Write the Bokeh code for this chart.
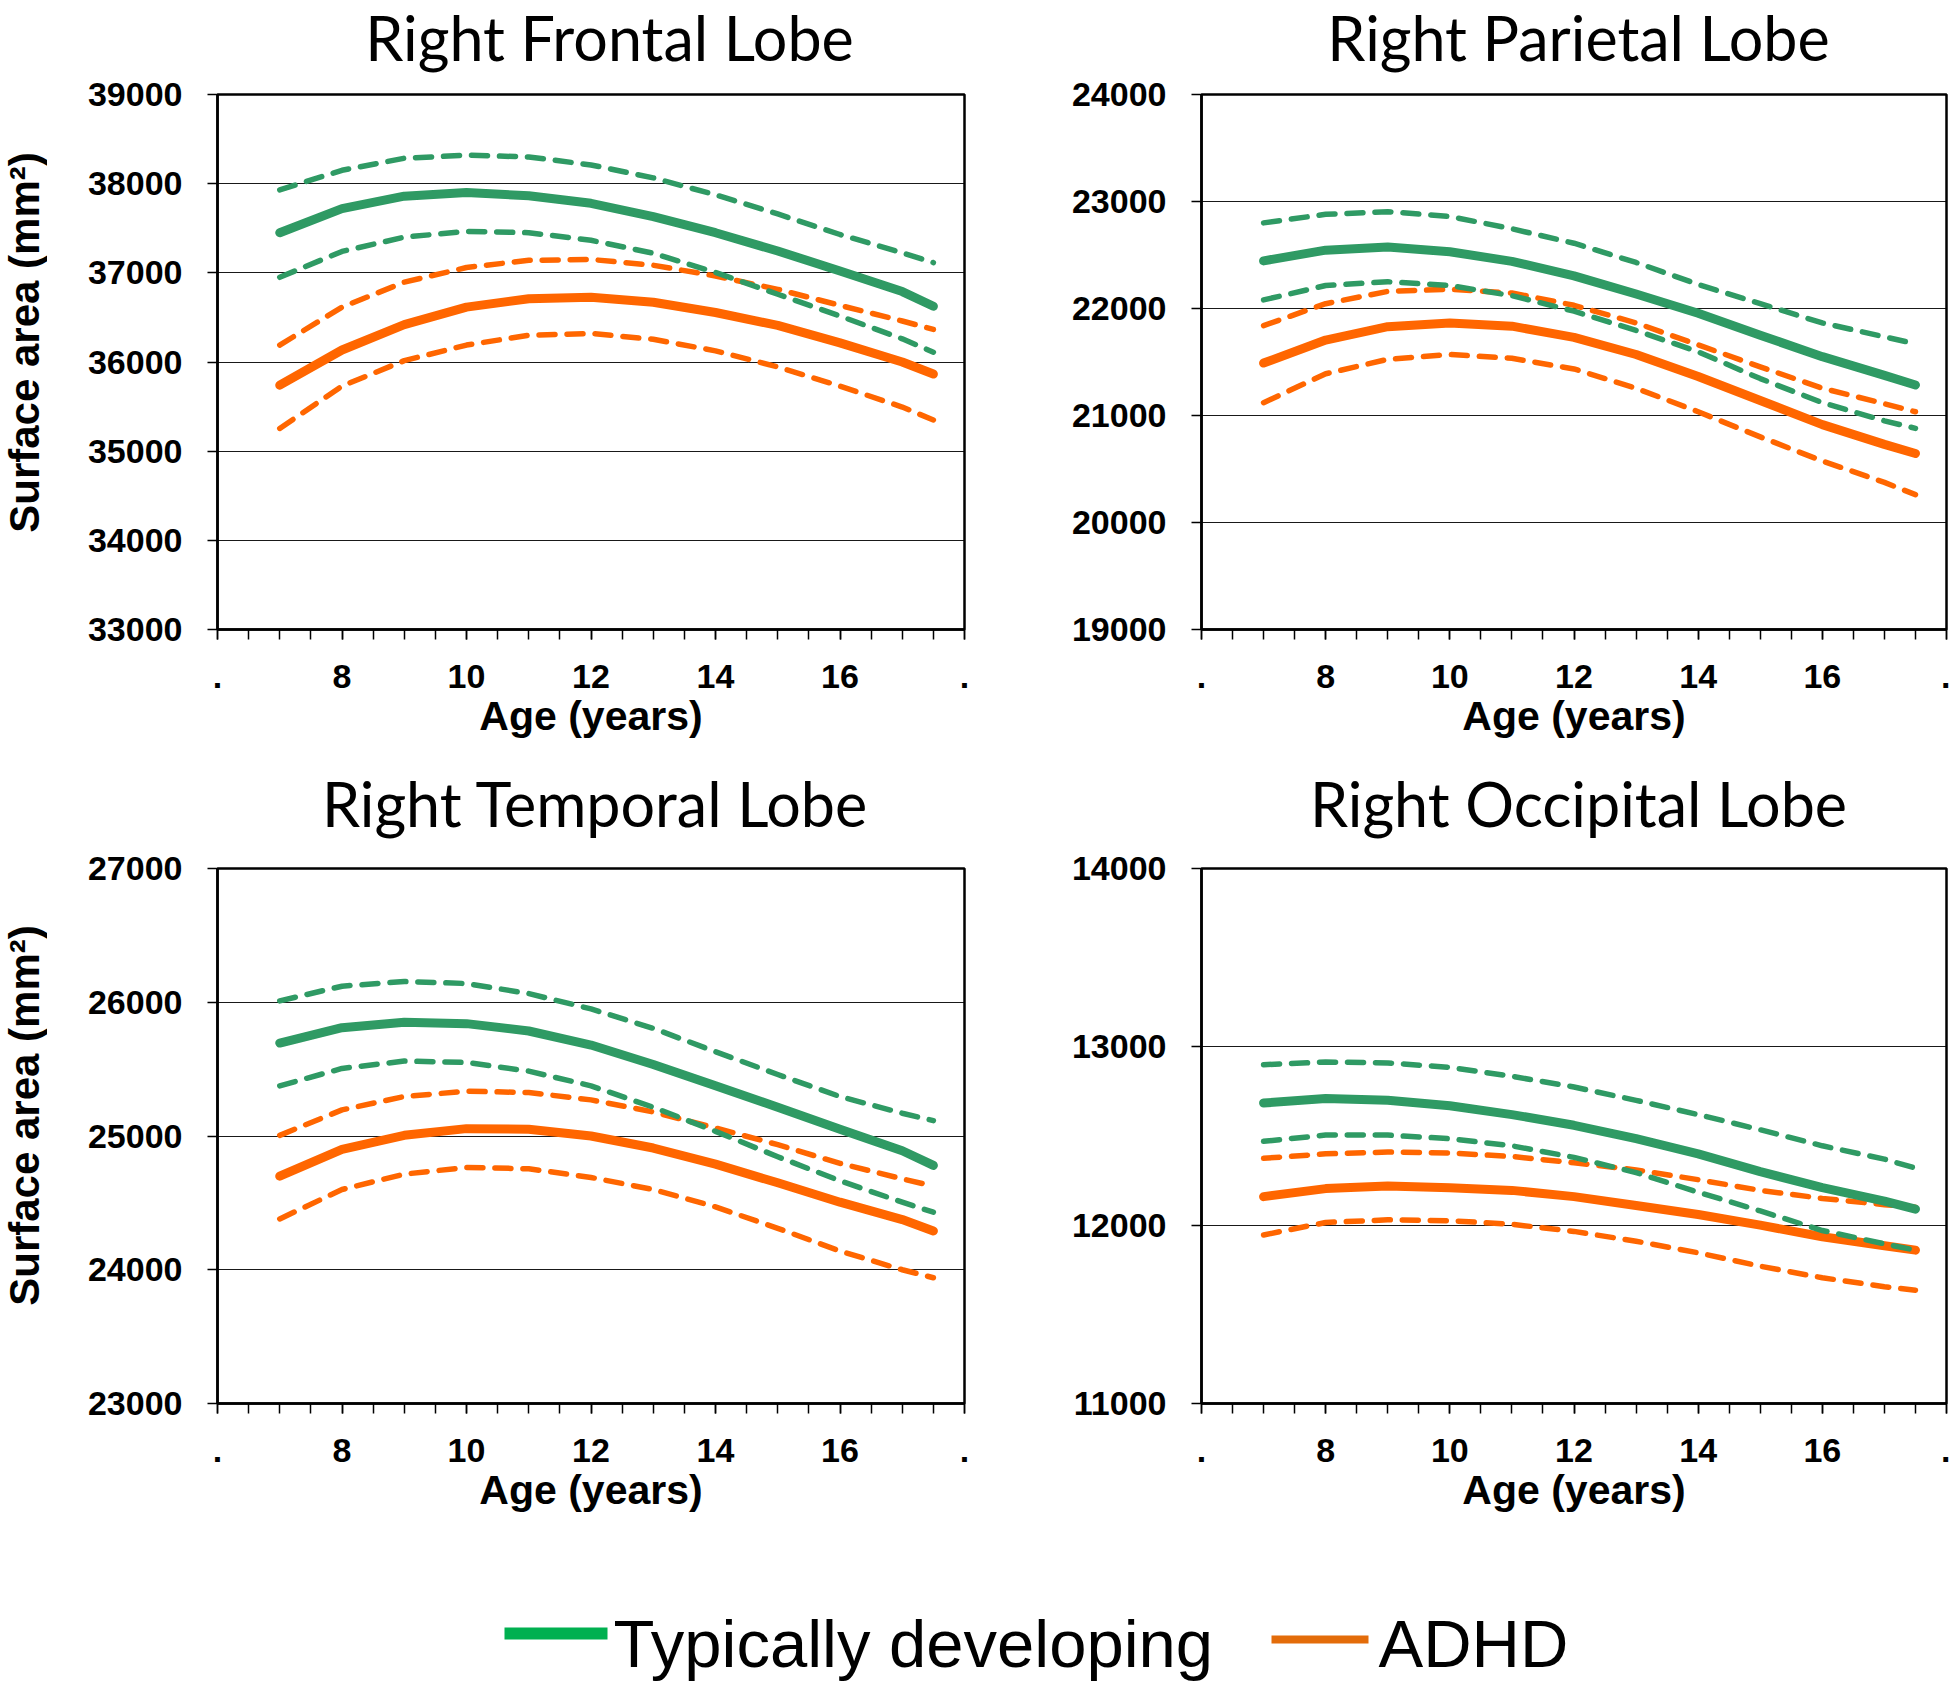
import math
from bokeh.plotting import figure
from bokeh.layouts import column, row
from bokeh.models import Range1d, FixedTicker
from bokeh.embed import file_html
from bokeh.resources import INLINE
from bokeh.core.properties import value

# ---------------- data ----------------
ages = [7, 8, 9, 10, 11, 12, 13, 14, 15, 16, 17, 17.5]

x_ticks = [6, 8, 10, 12, 14, 16, 18]
x_tick_labels = [".", "8", "10", "12", "14", "16", "."]
x_minor_ticks = [6, 6.5, 7, 7.5, 8, 8.5, 9, 9.5, 10, 10.5, 11, 11.5, 12,
                 12.5, 13, 13.5, 14, 14.5, 15, 15.5, 16, 16.5, 17, 17.5, 18]

titles = ["Right Frontal Lobe", "Right Parietal Lobe",
          "Right Temporal Lobe", "Right Occipital Lobe"]
y_limits = [(33000, 39000), (19000, 24000), (23000, 27000), (11000, 14000)]
y_title = "Surface area (mm\u00b2)"
x_title = "Age (years)"

frontal_td = [37450, 37720, 37860, 37900, 37865, 37780, 37630, 37450, 37245, 37020, 36790, 36625]
frontal_td_hi = [37930, 38150, 38285, 38320, 38300, 38210, 38065, 37875, 37660, 37430, 37225, 37115]
frontal_td_lo = [36950, 37240, 37400, 37465, 37450, 37365, 37220, 37005, 36760, 36515, 36260, 36110]
frontal_adhd = [35740, 36135, 36420, 36615, 36710, 36725, 36670, 36555, 36410, 36215, 36000, 35865]
frontal_adhd_hi = [36190, 36615, 36895, 37060, 37140, 37150, 37085, 36965, 36815, 36635, 36460, 36365]
frontal_adhd_lo = [35255, 35730, 36015, 36190, 36300, 36320, 36255, 36125, 35945, 35730, 35495, 35350]

parietal_td = [22445, 22545, 22575, 22530, 22440, 22305, 22135, 21955, 21750, 21550, 21375, 21285]
parietal_td_hi = [22800, 22880, 22905, 22860, 22745, 22610, 22430, 22225, 22045, 21865, 21735, 21670]
parietal_td_lo = [22080, 22215, 22250, 22215, 22120, 21975, 21795, 21595, 21345, 21120, 20950, 20880]
parietal_adhd = [21490, 21705, 21830, 21865, 21835, 21730, 21570, 21365, 21140, 20915, 20730, 20645]
parietal_adhd_hi = [21840, 22045, 22160, 22180, 22145, 22030, 21865, 21660, 21455, 21255, 21110, 21035]
parietal_adhd_lo = [21120, 21390, 21525, 21570, 21535, 21435, 21255, 21035, 20800, 20575, 20375, 20260]

temporal_td = [25695, 25810, 25850, 25840, 25785, 25680, 25535, 25375, 25215, 25050, 24890, 24780]
temporal_td_hi = [26010, 26120, 26155, 26140, 26065, 25950, 25805, 25630, 25460, 25295, 25170, 25115]
temporal_td_lo = [25375, 25505, 25560, 25550, 25485, 25375, 25215, 25035, 24845, 24665, 24505, 24430]
temporal_adhd = [24700, 24900, 25005, 25055, 25050, 25000, 24910, 24790, 24650, 24505, 24375, 24290]
temporal_adhd_hi = [25005, 25195, 25295, 25335, 25325, 25270, 25180, 25060, 24935, 24795, 24680, 24625]
temporal_adhd_lo = [24380, 24600, 24715, 24765, 24755, 24690, 24600, 24470, 24310, 24140, 24000, 23940]

occipital_td = [12685, 12710, 12700, 12670, 12620, 12560, 12485, 12400, 12300, 12210, 12135, 12090]
occipital_td_hi = [12900, 12915, 12910, 12885, 12835, 12775, 12700, 12620, 12535, 12445, 12370, 12320]
occipital_td_lo = [12470, 12505, 12505, 12485, 12445, 12380, 12295, 12185, 12080, 11970, 11895, 11860]
occipital_adhd = [12160, 12205, 12220, 12210, 12195, 12160, 12110, 12060, 12000, 11935, 11885, 11860]
occipital_adhd_hi = [12375, 12400, 12410, 12405, 12385, 12350, 12310, 12255, 12195, 12150, 12115, 12100]
occipital_adhd_lo = [11945, 12015, 12030, 12025, 12005, 11965, 11910, 11845, 11770, 11705, 11655, 11635]

legend_labels = ["Typically developing", "ADHD"]

# ---------------- style ----------------
TD_COLOR = "#2F9A64"
ADHD_COLOR = "#FF6600"
TD_LEG = "#00B050"
ADHD_LEG = "#E36C0A"
AX_FONT = "Liberation Sans"
TITLE_FONT = "Lato"
PAGE_W = 1950
YLAB_W = 47          # width of the strip that holds the rotated y-axis titles
INNER_W = PAGE_W - YLAB_W


def make_panel(ylim, series, width, height, mb_left, mb_right, mb_top, mb_bottom):
    p = figure(width=width, height=height, x_range=Range1d(6, 18),
               y_range=Range1d(*ylim), output_backend="svg",
               toolbar_location=None, min_border_left=mb_left,
               min_border_right=mb_right, min_border_top=mb_top,
               min_border_bottom=mb_bottom)
    p.background_fill_color = "white"
    p.border_fill_color = "white"
    p.outline_line_color = "black"
    p.outline_line_width = 2.5
    p.xgrid.visible = False
    p.ygrid.grid_line_color = "black"
    p.ygrid.grid_line_width = 1.2
    p.ygrid.grid_line_alpha = 0.9

    p.xaxis.ticker = FixedTicker(ticks=x_ticks, minor_ticks=x_minor_ticks)
    p.xaxis.major_label_overrides = {t: l for t, l in zip(x_ticks, x_tick_labels)}
    p.yaxis.ticker = FixedTicker(ticks=list(range(ylim[0], ylim[1] + 1, 1000)))
    for ax in (p.xaxis[0], p.yaxis[0]):
        ax.axis_line_color = "black"
        ax.axis_line_width = 2.5
        ax.major_tick_in = 0
        ax.major_tick_out = 10
        ax.major_tick_line_color = "black"
        ax.major_tick_line_width = 1.5
        ax.major_label_text_font = AX_FONT
        ax.major_label_text_font_style = "bold"
        ax.major_label_text_font_size = "34px"
        ax.major_label_text_color = "black"
        ax.axis_label_text_font = AX_FONT
        ax.axis_label_text_font_style = "bold"
        ax.axis_label_text_font_size = "41px"
        ax.axis_label_text_color = "black"
    p.xaxis.minor_tick_in = 0
    p.xaxis.minor_tick_out = 10
    p.xaxis.minor_tick_line_color = "black"
    p.xaxis.minor_tick_line_width = 1.5
    p.yaxis.minor_tick_line_color = None
    p.xaxis.major_label_standoff = 25
    p.yaxis.major_label_standoff = 25
    p.xaxis.axis_label = x_title
    p.xaxis.axis_label_standoff = 2

    td, td_hi, td_lo, ad, ad_hi, ad_lo = series
    for ys in (ad_hi, ad_lo):
        p.line(ages, ys, line_color=ADHD_COLOR, line_width=5.5,
               line_dash="16 12", line_cap="round", line_join="round")
    p.line(ages, ad, line_color=ADHD_COLOR, line_width=9,
           line_cap="round", line_join="round")
    for ys in (td_hi, td_lo):
        p.line(ages, ys, line_color=TD_COLOR, line_width=5.5,
               line_dash="16 12", line_cap="round", line_join="round")
    p.line(ages, td, line_color=TD_COLOR, line_width=9,
           line_cap="round", line_join="round")
    return p


def make_strip(height, texts, xs, y_mid):
    s = figure(width=INNER_W, height=height, x_range=Range1d(0, INNER_W),
               y_range=Range1d(0, height), x_axis_type=None, y_axis_type=None,
               output_backend="svg", toolbar_location=None, min_border=0)
    s.outline_line_color = None
    s.grid.visible = False
    s.text(x=xs, y=[y_mid] * len(xs), text=texts, text_font=value(TITLE_FONT),
           text_font_size="61px", text_align="center", text_baseline="middle",
           text_color="black")
    return s


# title strips (x positions relative to the inner column)
strip1 = make_strip(75, titles[0:2], [609 - YLAB_W, 1578 - YLAB_W], 37.6)
p1 = make_panel(y_limits[0],
                (frontal_td, frontal_td_hi, frontal_td_lo, frontal_adhd,
                 frontal_adhd_hi, frontal_adhd_lo),
                1052 - YLAB_W, 675, 217 - YLAB_W, 88, 19, 121)
p2 = make_panel(y_limits[1],
                (parietal_td, parietal_td_hi, parietal_td_lo, parietal_adhd,
                 parietal_adhd_hi, parietal_adhd_lo),
                898, 675, 149, 4, 19, 121)
strip2 = make_strip(90, titles[2:4], [595 - YLAB_W, 1578 - YLAB_W], 36.6)
p3 = make_panel(y_limits[2],
                (temporal_td, temporal_td_hi, temporal_td_lo, temporal_adhd,
                 temporal_adhd_hi, temporal_adhd_lo),
                1052 - YLAB_W, 700, 217 - YLAB_W, 88, 28, 137)
p4 = make_panel(y_limits[3],
                (occipital_td, occipital_td_hi, occipital_td_lo, occipital_adhd,
                 occipital_adhd_hi, occipital_adhd_lo),
                898, 700, 149, 4, 28, 137)

# rotated y-axis titles, in their own narrow strip on the left
COL_H = 75 + 675 + 90 + 700
ylab = figure(width=YLAB_W, height=COL_H, x_range=Range1d(0, YLAB_W),
              y_range=Range1d(0, COL_H), x_axis_type=None, y_axis_type=None,
              output_backend="svg", toolbar_location=None, min_border=0)
ylab.outline_line_color = None
ylab.grid.visible = False
ylab.text(x=[YLAB_W / 2, YLAB_W / 2], y=[COL_H - 342, COL_H - 1115],
          text=[y_title, y_title], angle=math.pi / 2,
          text_font=value(AX_FONT), text_font_style="bold",
          text_font_size="42px", text_align="center", text_baseline="middle",
          text_color="black")

# ---------------- legend ----------------
LH = 144
leg = figure(width=PAGE_W, height=LH, x_range=Range1d(0, PAGE_W), y_range=Range1d(0, LH),
             x_axis_type=None, y_axis_type=None, output_backend="svg",
             toolbar_location=None, min_border=0)
leg.outline_line_color = None
leg.grid.visible = False
leg.segment(x0=[504], y0=[51], x1=[607], y1=[51], line_color=TD_LEG, line_width=12)
leg.text(x=[613], y=[41], text=[legend_labels[0]], text_font=value(AX_FONT),
         text_font_size="67px", text_baseline="middle", text_color="black")
leg.segment(x0=[1271], y0=[45], x1=[1368], y1=[45], line_color=ADHD_LEG, line_width=8)
leg.text(x=[1378], y=[41], text=[legend_labels[1]], text_font=value(AX_FONT),
         text_font_size="67px", text_baseline="middle", text_color="black")

inner = column(strip1, row(p1, p2), strip2, row(p3, p4))
layout = column(row(ylab, inner), leg)
open("out.html", "w").write(file_html(layout, INLINE))
